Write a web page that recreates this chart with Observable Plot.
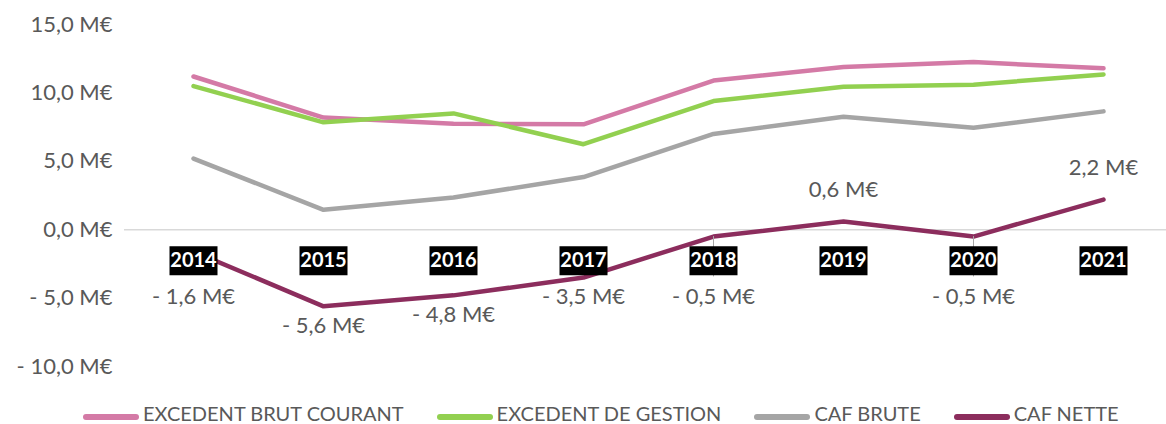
<!DOCTYPE html>
<html>
<head>
<meta charset="utf-8">
<script src="https://cdn.jsdelivr.net/npm/d3@7"></script>
<script src="https://cdn.jsdelivr.net/npm/@observablehq/plot@0.6"></script>
<style>
  html, body { margin: 0; padding: 0; background: #fff; overflow: hidden; }
  #wrap { width: 1166px; height: 424px; overflow: hidden; position: relative; }
  #wrap svg { display: block; }
  .legend { display: flex; align-items: flex-start; height: 24px; padding-top: 3px; padding-left: 83px; gap: 33px;
            font-family: Lato, sans-serif; font-size: 20px; line-height: 20px; color: #595959; white-space: nowrap; }
  .legend .item { display: flex; align-items: flex-start; gap: 4px; }
  .legend .sw { width: 56px; height: 6px; border-radius: 3px; margin-top: 11px; }
</style>
</head>
<body>
<div id="wrap"></div>
<script>
const years = ["2014", "2015", "2016", "2017", "2018", "2019", "2020", "2021"];
const seriesNames = ["EXCEDENT BRUT COURANT", "EXCEDENT DE GESTION", "CAF BRUTE", "CAF NETTE"];
const excedentBrutCourant = [11.2, 8.2, 7.75, 7.7, 10.9, 11.9, 12.25, 11.8];
const excedentDeGestion = [10.5, 7.85, 8.5, 6.25, 9.4, 10.45, 10.6, 11.35];
const cafBrute = [5.2, 1.45, 2.35, 3.85, 7.0, 8.25, 7.45, 8.65];
const cafNette = [-1.6, -5.6, -4.8, -3.5, -0.5, 0.6, -0.5, 2.2];
const seriesColors = ["#d47aa6", "#92d050", "#a5a5a5", "#8c2d5d"];
const yTicks = [-10, -5, 0, 5, 10, 15];

const seriesValues = [excedentBrutCourant, excedentDeGestion, cafBrute, cafNette];
const rows = [];
seriesNames.forEach((s, i) => years.forEach((yr, j) => rows.push({serie: s, year: yr, value: seriesValues[i][j]})));
const netRows = years.map((yr, j) => ({year: yr, value: cafNette[j]}));

const fmt = v => (v < 0 ? "- " : "") + Math.abs(v).toFixed(1).replace(".", ",") + " M€";
const labelY = d => d.value < 0 ? Math.min(d.value - 1.4, -4.95) : d.value + 2.3;

const boxSymbol = { draw(ctx) { ctx.rect(-24, -14.5, 48, 29); } };

const chart = Plot.plot({
  width: 1166,
  height: 400,
  marginLeft: 124,
  marginRight: 0,
  marginTop: 24,
  marginBottom: 34,
  style: { fontFamily: "Lato, sans-serif", fontSize: "22px", color: "#595959", background: "white" },
  x: { type: "point", domain: years, padding: 0.48, align: 0.52, axis: null },
  y: { domain: [-10, 15], ticks: yTicks, tickFormat: fmt, tickSize: 0, tickPadding: 12, label: null },
  color: { domain: seriesNames, range: seriesColors },
  marks: [
    Plot.ruleY([0], { stroke: "#d9d9d9", strokeWidth: 1.5 }),
    Plot.line(rows, { x: "year", y: "value", z: "serie", stroke: "serie", strokeWidth: 4.5,
                      strokeLinecap: "round", strokeLinejoin: "round" }),
    Plot.ruleX(netRows.filter(d => Math.abs(labelY(d) - d.value) > 4), {
      x: "year", y1: "value", y2: d => labelY(d) + 1.5, stroke: "#a6a6a6", strokeWidth: 1 }),
    Plot.dot(years, { x: d => d, y: () => 0, dy: 31, symbol: boxSymbol, r: 5, fill: "black", stroke: "none" }),
    Plot.text(years, { x: d => d, y: () => 0, dy: 31, text: d => d, fill: "white", fontWeight: "bold", fontSize: 20 }),
    Plot.text(netRows, { x: "year", y: labelY, text: d => fmt(d.value), fill: "#595959", fontSize: 22 })
  ]
});

const wrap = document.getElementById("wrap");
wrap.appendChild(chart);
const legend = document.createElement("div");
legend.className = "legend";
seriesNames.forEach((s, i) => {
  const item = document.createElement("div");
  item.className = "item";
  const sw = document.createElement("span");
  sw.className = "sw";
  sw.style.background = seriesColors[i];
  const t = document.createElement("span");
  t.textContent = s;
  item.appendChild(sw);
  item.appendChild(t);
  legend.appendChild(item);
});
wrap.appendChild(legend);
</script>
</body>
</html>
